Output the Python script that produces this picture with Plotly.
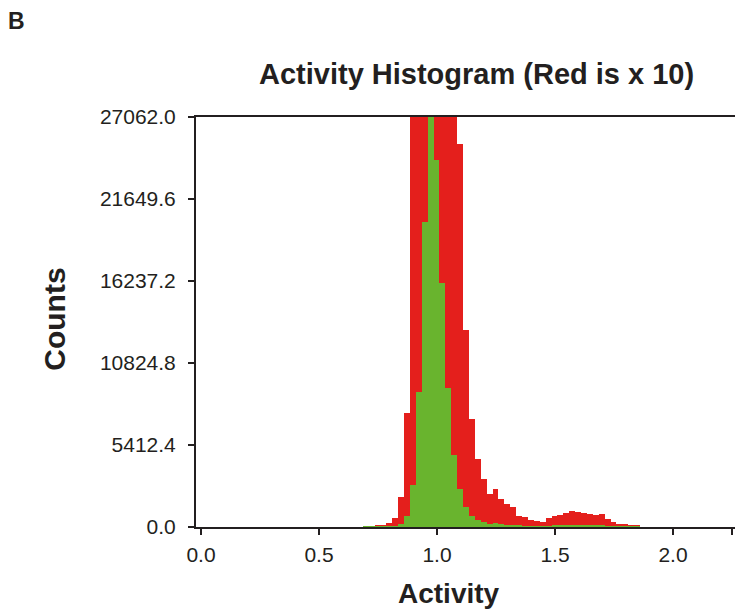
import plotly.graph_objects as go

# Bin centers (Activity) and green-histogram counts
activity = [0.698, 0.723, 0.748, 0.773, 0.798, 0.823, 0.848, 0.873,
            0.898, 0.923, 0.948, 0.973, 0.998, 1.023, 1.048, 1.073,
            1.098, 1.123, 1.148, 1.173, 1.198, 1.223, 1.248, 1.273,
            1.298, 1.323, 1.348, 1.373, 1.398, 1.423, 1.448, 1.473,
            1.498, 1.523, 1.548, 1.573, 1.598, 1.623, 1.648, 1.673,
            1.698, 1.723, 1.748, 1.773, 1.798, 1.823, 1.848]
counts = [5, 6, 10, 16, 28, 61, 199, 755,
          2800, 8886, 20160, 27062, 24226, 16090, 9170, 4780,
          2530, 1300, 712, 449, 318, 221, 254, 188,
          155, 132, 72, 66, 49, 38, 36, 60,
          70, 82, 95, 104, 100, 91, 84, 76,
          86, 53, 32, 20, 18, 12, 11]
# the red histogram is the same data multiplied by 10 (see title)
red_multiplier = 10
bin_width = 0.025

y_ticks = [0.0, 5412.4, 10824.8, 16237.2, 21649.6, 27062.0]
x_ticks = [0.0, 0.5, 1.0, 1.5, 2.0, 2.25]
x_ticktext = ["0.0", "0.5", "1.0", "1.5", "2.0", ""]

RED = "#e41f1c"
GREEN = "#69b42e"
INK = "#231f20"
FONT = "Liberation Sans, Arial, sans-serif"

red_counts = [c * red_multiplier for c in counts]

fig = go.Figure()
fig.add_trace(go.Bar(x=activity, y=red_counts, width=bin_width,
                     marker=dict(color=RED, line=dict(width=0)), name="x10"))
fig.add_trace(go.Bar(x=activity, y=counts, width=bin_width,
                     marker=dict(color=GREEN, line=dict(width=0)), name="counts"))

W, H = 737, 609
L, R, T, B = 196, 2, 117, 81.5
pw, ph = W - L - R, H - T - B

def px_x(p):
    return (p - L) / pw

def px_y(p):
    return (H - B - p) / ph

fig.update_layout(
    width=W, height=H,
    margin=dict(l=L, r=R, t=T, b=B, pad=0, autoexpand=False),
    paper_bgcolor="white", plot_bgcolor="white",
    barmode="overlay", bargap=0, showlegend=False,
    font=dict(family=FONT, color=INK, size=20),
    xaxis=dict(range=[-0.0212, 2.2627], tickvals=x_ticks, ticktext=x_ticktext,
               showgrid=False, zeroline=False, showline=True, linecolor=INK,
               linewidth=2, mirror=True, ticks="outside", ticklen=6, tickwidth=2,
               tickcolor=INK, tickfont=dict(size=21, color=INK, family=FONT),
               ticklabelstandoff=2, automargin=False),
    yaxis=dict(range=[0, 27062.0], tickvals=y_ticks, tickformat=".1f",
               showgrid=False, zeroline=False, showline=True, linecolor=INK,
               linewidth=2, ticks="outside", ticklen=6, tickwidth=2, tickcolor=INK,
               tickfont=dict(size=21, color=INK, family=FONT),
               ticklabelstandoff=8, automargin=False),
    annotations=[
        dict(text="<b>Activity Histogram (Red is x 10)</b>", xref="paper", yref="paper",
             x=px_x(476.5), y=px_y(74), xanchor="center", yanchor="middle",
             showarrow=False, font=dict(size=29, color=INK, family=FONT)),
        dict(text="<b>Counts</b>", xref="paper", yref="paper",
             x=px_x(55), y=px_y(320), xanchor="center", yanchor="middle",
             textangle=-90, showarrow=False, font=dict(size=30, color=INK, family=FONT)),
        dict(text="<b>Activity</b>", xref="paper", yref="paper",
             x=px_x(449), y=px_y(594), xanchor="center", yanchor="middle",
             showarrow=False, font=dict(size=28, color=INK, family=FONT)),
        dict(text="<b>B</b>", xref="paper", yref="paper",
             x=px_x(16.5), y=px_y(21), xanchor="center", yanchor="middle",
             showarrow=False, font=dict(size=23, color=INK, family=FONT)),
    ],
)

fig.write_html("out.html", config={"displayModeBar": False},
               post_script="document.body.style.margin='0';")
